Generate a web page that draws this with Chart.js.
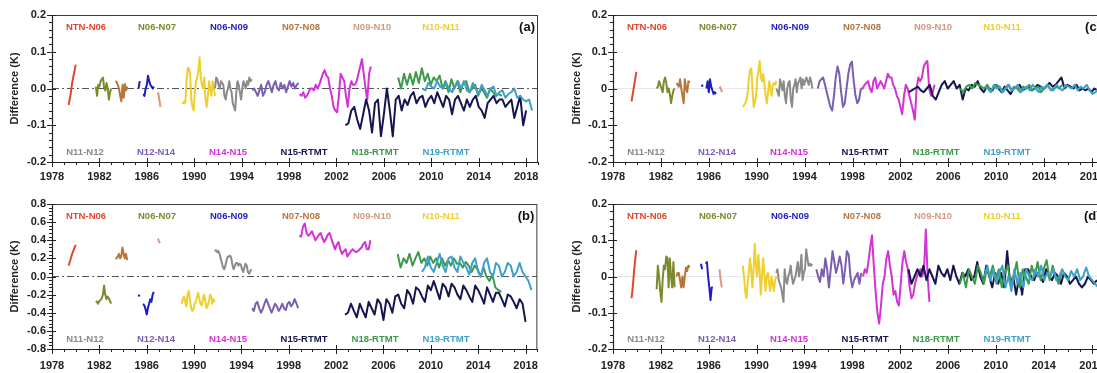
<!DOCTYPE html>
<html><head><meta charset="utf-8">
<script src="https://cdn.jsdelivr.net/npm/chart.js@4.4.1/dist/chart.umd.min.js"></script>
<style>
html,body{margin:0;padding:0;overflow:hidden;background:#fff;width:1097px;height:373px;}
body{position:relative;}
canvas{position:absolute;}
</style></head>
<body>
<canvas id="ca" width="548" height="185" style="left:0;top:0"></canvas>
<canvas id="cb" width="548" height="188" style="left:0;top:185px"></canvas>
<canvas id="cc" width="566" height="185" style="left:548px;top:0"></canvas>
<canvas id="cd" width="566" height="188" style="left:548px;top:185px"></canvas>
<script>
// ---------------- DATA ----------------
const seriesNames = ['NTN-N06','N06-N07','N06-N09','N07-N08','N09-N10','N10-N11','N11-N12','N12-N14','N14-N15','N15-RTMT','N18-RTMT','N19-RTMT'];
const seriesColors = ['#e2462c','#7b8a2a','#1d1dc4','#b8743a','#d39a80','#efcf2e','#8a8a8a','#7a5fb0','#d232d6','#15154f','#3d9a49','#3fa0c8'];
const xTickValues = [1978,1982,1986,1990,1994,1998,2002,2006,2010,2014,2018];
const xTickLabels = ['1978','1982','1986','1990','1994','1998','2002','2006','2010','2014','2018'];
const yTicksSmall = [-0.2,-0.1,0,0.1,0.2];
const yLabelsLeft = ['-0.2','-0.1','0.0','0.1','0.2'];
const yLabelsRight = ['-0.2','-0.1','0','0.1','0.2'];
const yTicksB = [-0.8,-0.6,-0.4,-0.2,0,0.2,0.4,0.6,0.8];
const yLabelsB = ['-0.8','-0.6','-0.4','-0.2','0.0','0.2','0.4','0.6','0.8'];
const zeroLine = [[1978,0],[2019,0]];

// panel (a): start year and step of each series, then values
const a_t0 = [1979.4,1981.7,1985.3,1983.35,1986.95,1988.95,1991.75,1994.9,1998.9,2002.75,2007.2,2009.25];
const a_dt = [0.15,0.1,0.1,0.1,0.1,0.1,0.1,0.15,0.15,0.25,0.25,0.25];
const a_v0 = [-0.045,-0.02,0.015,0.04,0.065];
const a_v1 = [0.005,-0.02,0.01,0.005,0.02,0.025,0.03,0.0,-0.005,0.015,0.0,-0.03,-0.01,0.0];
const a_v2 = [0.0,0.02,null,null,-0.015,-0.02,0.0,0.01,0.035,0.02,0.01,0.005,0.0,0.005];
const a_v3 = [0.02,0.018,0.01,0.0,-0.02,-0.035,0.01,-0.025,0.012,-0.005,0.005];
const a_v4 = [-0.01,-0.03,-0.05];
const a_v5 = [-0.04,-0.04,-0.035,-0.04,0.02,0.055,0.055,0.04,-0.03,-0.05,-0.06,-0.01,0.02,0.03,0.05,0.085,0.03,0.01,0.0,0.03,-0.03,-0.05,-0.02,0.02,0.0,-0.02,0.02,0.0,-0.02];
const a_v6 = [0.0,0.03,0.025,0.01,0.0,0.02,0.015,0.01,-0.02,-0.03,-0.01,0.0,0.02,0.0,-0.01,-0.04,-0.05,-0.06,-0.01,0.02,0.01,-0.01,-0.03,0.0,0.02,0.01,0.0,0.02,0.01,0.03,0.02,0.025];
const a_v7 = [-0.005,0.0,-0.01,-0.02,-0.005,0.01,-0.02,-0.01,0.01,0.02,0.005,-0.01,0.01,0.02,0.0,-0.005,0.015,0.0,0.01,-0.01,0.005,0.02,0.005,0.015,0.0,0.01,0.015];
const a_v8 = [-0.015,-0.02,-0.01,-0.025,-0.02,-0.01,0.0,0.0,-0.005,0.01,0.0,0.01,0.025,0.04,0.05,0.035,0.03,0.0,-0.02,-0.05,-0.06,-0.065,-0.02,0.04,0.03,0.02,-0.02,-0.05,0.0,0.02,0.01,0.01,0.02,0.04,0.06,0.08,0.04,0.0,-0.03,0.04,0.06];
const a_v9 = [-0.1,-0.095,-0.06,-0.05,-0.085,-0.11,-0.07,-0.03,-0.06,-0.12,-0.04,-0.03,-0.13,-0.07,0.0,-0.06,-0.13,-0.03,-0.02,-0.06,-0.03,-0.045,-0.02,-0.01,-0.04,-0.025,-0.02,-0.05,-0.03,-0.02,-0.04,-0.01,-0.03,-0.05,-0.02,-0.03,-0.07,-0.03,-0.02,-0.04,-0.06,-0.03,-0.05,-0.03,-0.02,-0.05,-0.06,-0.08,-0.04,-0.03,-0.02,-0.04,-0.03,-0.03,-0.05,-0.04,-0.03,-0.08,-0.05,-0.02,-0.1,-0.06];
const a_v10 = [0.03,0.0,0.04,0.01,0.04,0.01,0.045,0.015,0.055,0.02,0.04,0.01,0.03,0.02,0.035,0.0,0.02,-0.01,0.025,0.0,0.02,-0.01,0.015,0.02,-0.01,0.0,0.01,-0.02,0.0,-0.01,-0.025,0.0,-0.01,-0.02,-0.015,-0.02];
const a_v11 = [0.0,-0.005,0.015,0.005,0.0,0.02,0.005,0.0,0.015,0.0,-0.01,0.005,0.02,0.0,0.02,-0.005,-0.01,0.015,0.0,-0.015,0.01,-0.005,-0.02,0.0,0.005,-0.02,-0.01,-0.005,-0.025,-0.015,-0.01,0.0,-0.025,-0.02,-0.03,-0.035,-0.03,-0.06];

// panel (b)
const b_t0 = [1979.4,1981.7,1985.3,1983.35,1986.95,1988.95,1991.75,1994.9,1998.9,2002.75,2007.2,2009.25];
const b_dt = [0.15,0.1,0.1,0.1,0.1,0.1,0.1,0.15,0.15,0.25,0.25,0.25];
const b_v0 = [0.12,0.18,0.25,0.3,0.35];
const b_v1 = [-0.27,-0.28,-0.3,-0.27,-0.26,-0.24,-0.2,-0.1,-0.2,-0.25,-0.22,-0.24,-0.27,-0.3];
const b_v2 = [-0.22,-0.2,null,null,-0.3,-0.32,-0.36,-0.42,-0.35,-0.3,-0.25,-0.28,-0.2,-0.17];
const b_v3 = [0.2,0.2,0.22,0.25,0.2,0.22,0.32,0.25,0.2,0.25,0.18];
const b_v4 = [0.42,0.38,0.37];
const b_v5 = [-0.3,-0.25,-0.22,-0.28,-0.33,-0.2,-0.16,-0.25,-0.35,-0.38,-0.36,-0.3,-0.28,-0.22,-0.18,-0.25,-0.3,-0.32,-0.25,-0.2,-0.27,-0.35,-0.32,-0.28,-0.2,-0.22,-0.3,-0.25,-0.28];
const b_v6 = [0.28,0.29,0.27,0.28,0.25,0.2,0.15,0.1,0.08,0.12,0.18,0.22,0.22,0.23,0.2,0.12,0.08,0.12,0.15,0.15,0.12,0.14,0.13,0.08,0.05,0.1,0.14,0.12,0.05,0.03,0.06,0.08];
const b_v7 = [-0.35,-0.38,-0.3,-0.28,-0.35,-0.4,-0.36,-0.3,-0.25,-0.3,-0.35,-0.4,-0.35,-0.3,-0.33,-0.38,-0.35,-0.3,-0.35,-0.37,-0.3,-0.28,-0.33,-0.3,-0.25,-0.3,-0.35];
const b_v8 = [0.45,0.44,0.55,0.585,0.48,0.45,0.47,0.5,0.45,0.4,0.43,0.46,0.48,0.42,0.38,0.42,0.46,0.48,0.42,0.36,0.3,0.35,0.38,0.3,0.25,0.28,0.3,0.22,0.25,0.28,0.3,0.28,0.27,0.28,0.3,0.32,0.36,0.38,0.3,0.3,0.4];
const b_v9 = [-0.42,-0.4,-0.3,-0.38,-0.45,-0.3,-0.38,-0.45,-0.28,-0.35,-0.42,-0.25,-0.3,-0.48,-0.25,-0.3,-0.4,-0.22,-0.2,-0.3,-0.35,-0.15,-0.2,-0.3,-0.12,-0.15,-0.22,-0.28,-0.1,-0.15,-0.05,-0.15,-0.25,-0.08,-0.12,-0.22,-0.08,-0.12,-0.2,-0.25,-0.1,-0.15,-0.22,-0.28,-0.1,-0.15,-0.22,-0.3,-0.12,-0.2,-0.28,-0.18,-0.18,-0.25,-0.33,-0.2,-0.22,-0.28,-0.35,-0.25,-0.3,-0.5];
const b_v10 = [0.25,0.1,0.2,0.15,0.25,0.12,0.2,0.27,0.15,0.2,0.12,0.22,0.15,0.2,0.1,0.2,0.12,0.18,0.12,0.2,0.14,0.15,0.1,0.16,0.12,0.05,0.12,0.08,0.0,0.1,0.0,-0.05,0.02,-0.12,-0.15,-0.17];
const b_v11 = [0.05,0.1,0.22,0.1,0.05,0.15,0.25,0.12,0.05,0.2,0.22,0.1,0.05,0.22,0.15,0.1,0.02,0.15,0.2,0.05,0.0,0.15,0.2,0.05,0.0,0.15,0.12,0.0,0.05,0.15,0.12,0.0,0.05,0.15,0.05,0.0,-0.05,-0.15];

// panel (c)
const c_t0 = [1979.55,1981.65,1985.4,1983.3,1986.9,1988.85,1991.65,1995.1,1998.7,2002.7,2007.0,2009.05];
const c_dt = [0.1,0.1,0.1,0.1,0.1,0.1,0.1,0.15,0.15,0.25,0.25,0.25];
const c_v0 = [-0.035,-0.015,0.005,0.025,0.045];
const c_v1 = [0.0,0.005,0.02,0.01,0.0,-0.01,0.02,0.03,0.015,-0.01,0.0,-0.015,-0.04,-0.02,-0.005,0.0];
const c_v2 = [0.005,0.01,null,null,0.0,0.02,-0.01,0.025,0.005,-0.005,-0.015,-0.01,-0.015];
const c_v3 = [0.015,0.01,0.005,0.025,0.0,-0.02,-0.04,0.025,0.0,-0.01,0.02,0.015];
const c_v4 = [0.005,0.0,-0.01];
const c_v5 = [-0.05,-0.045,-0.04,-0.03,-0.01,0.03,0.05,0.055,0.0,-0.05,-0.04,-0.02,0.03,0.05,0.075,0.03,0.02,0.04,0.01,-0.02,-0.04,-0.01,0.02,0.0,-0.02,0.01,0.015,0.01,0.02];
const c_v6 = [0.0,-0.01,-0.02,0.025,0.01,-0.005,0.02,-0.02,-0.04,0.0,0.015,0.02,-0.03,-0.05,0.0,0.01,0.025,-0.01,0.015,0.02,0.03,0.0,0.025,0.01,0.02,0.03,0.02,0.01,0.03,0.02,0.0];
const c_v7 = [0.0,0.02,0.025,0.03,0.01,-0.01,-0.03,-0.05,-0.06,-0.02,0.03,0.06,0.04,-0.01,-0.05,-0.04,0.0,0.04,0.065,0.073,0.02,-0.02,-0.04,-0.03,0.0];
const c_v8 = [0.0,0.0,0.01,0.015,0.02,0.0,-0.01,0.02,0.03,0.0,0.01,0.02,0.01,0.0,0.02,0.04,0.03,0.03,0.01,0.0,-0.02,-0.03,-0.05,-0.07,-0.02,0.01,0.0,-0.02,-0.04,-0.06,-0.085,0.0,0.03,0.02,0.03,0.06,0.07,0.075,0.0,-0.02,-0.01,0.01];
const c_v9 = [-0.01,-0.005,0.0,0.005,-0.005,-0.01,0.0,0.01,-0.02,-0.03,-0.01,0.01,0.02,0.0,0.01,0.02,0.0,0.01,-0.03,0.0,-0.005,0.01,0.005,0.02,0.0,-0.01,0.005,0.0,-0.005,0.01,0.0,-0.01,0.005,-0.005,-0.015,0.0,0.005,0.01,-0.005,0.0,0.005,-0.005,0.0,0.01,0.005,0.0,0.005,0.015,0.005,0.01,0.02,0.03,0.0,0.01,0.005,0.0,0.01,-0.005,0.0,-0.005,0.0,-0.01,0.0,-0.005];
const c_v10 = [0.0,-0.01,0.005,0.01,0.0,0.015,0.01,0.005,0.0,0.01,-0.005,0.0,0.01,0.005,-0.01,0.0,0.01,-0.005,0.005,0.0,-0.01,0.005,0.0,0.01,-0.005,0.0,0.005,-0.01,0.0,0.01,0.0,-0.005,0.005,0.0,0.01];
const c_v11 = [0.005,0.0,-0.01,0.01,0.0,0.005,-0.01,0.0,0.01,-0.005,0.0,0.01,-0.01,0.0,0.005,-0.005,0.01,0.0,-0.01,0.005,0.0,0.01,-0.005,0.0,0.01,0.0,-0.005,0.01,0.005,0.0,0.01,-0.005,0.005,0.0,0.01,-0.005,-0.015,-0.01,0.0];

// panel (d)
const d_t0 = [1979.55,1981.65,1985.35,1983.3,1986.9,1988.85,1991.65,1995.0,1998.9,2002.7,2007.0,2009.05];
const d_dt = [0.1,0.1,0.1,0.1,0.1,0.1,0.1,0.15,0.15,0.25,0.25,0.25];
const d_v0 = [-0.06,-0.03,0.01,0.045,0.073];
const d_v1 = [-0.035,0.03,0.0,-0.04,-0.07,-0.01,0.03,0.02,0.055,0.05,-0.03,0.05,0.0,-0.03,0.04,-0.03];
const d_v2 = [0.035,0.02,null,null,0.035,0.04,0.0,-0.03,-0.065,-0.03,-0.03];
const d_v3 = [0.0,0.01,0.01,-0.01,-0.03,0.0,-0.03,0.0,0.025,0.015,0.03,0.025];
const d_v4 = [0.02,-0.01,-0.03];
const d_v5 = [0.03,0.0,-0.04,-0.06,-0.02,0.01,0.05,0.02,-0.03,0.02,0.09,0.03,0.0,0.06,0.02,-0.05,0.0,0.05,0.01,-0.04,0.0,0.01,-0.02,-0.04,0.0,-0.02,-0.04,-0.01,0.0];
const d_v6 = [0.01,0.02,-0.01,-0.02,-0.03,-0.05,-0.07,0.02,-0.01,-0.02,0.0,0.01,0.03,0.0,-0.02,-0.01,0.0,0.02,0.04,0.0,0.02,0.06,-0.01,0.01,0.02,0.075,0.05,0.03,0.035,0.03,0.035];
const d_v7 = [0.02,0.0,-0.015,0.02,0.0,0.05,0.02,-0.03,0.02,0.07,0.04,0.01,0.03,0.055,0.03,-0.02,0.02,0.07,0.06,0.0,-0.03,-0.01,0.0,0.01,-0.02,0.01];
const d_v8 = [0.0,0.02,0.01,0.04,0.08,0.114,0.03,-0.04,-0.1,-0.13,-0.08,-0.02,0.0,0.05,0.07,0.03,0.0,-0.05,-0.04,-0.07,-0.08,-0.02,0.04,0.07,0.04,0.02,-0.03,-0.06,-0.05,-0.02,0.0,0.01,0.02,0.0,0.02,0.13,0.0,-0.07];
const d_v9 = [0.02,-0.02,0.0,0.02,0.0,0.03,-0.01,0.02,0.0,-0.02,0.03,0.01,0.0,0.02,-0.01,0.03,0.0,-0.02,0.01,0.0,0.02,-0.01,0.0,0.04,0.0,-0.02,0.03,0.0,-0.03,0.01,-0.02,0.01,-0.03,0.07,-0.02,0.0,-0.05,0.0,-0.05,0.02,0.02,0.0,-0.01,0.01,0.0,-0.015,0.02,0.0,-0.01,0.01,0.0,-0.02,0.01,0.0,-0.02,-0.01,0.0,-0.02,-0.03,-0.02,0.0,-0.01,-0.02,-0.01];
const d_v10 = [-0.02,0.01,-0.03,0.02,0.0,-0.02,0.03,0.01,-0.02,0.02,0.0,0.03,-0.01,0.02,-0.03,0.01,0.03,-0.02,0.0,0.04,-0.03,0.02,0.0,-0.02,0.03,0.0,0.04,-0.01,0.02,0.045,-0.01,0.03,0.0,-0.02,0.01];
const d_v11 = [0.0,0.03,-0.01,0.02,-0.02,0.01,0.03,-0.03,0.0,-0.04,0.02,-0.02,0.01,-0.03,0.02,0.0,-0.01,0.02,0.0,0.03,-0.01,0.01,0.0,0.02,-0.01,0.0,0.02,0.0,-0.01,0.015,0.0,0.02,-0.01,0.0,0.025,0.0,-0.01,-0.02,-0.03];

// ---------------- BUILD ----------------
const FONT = '"Liberation Sans", Arial, Helvetica, sans-serif';
function pts(t0, dt, vals){ return vals.map((v,i)=>({x: Math.round((t0+i*dt)*1000)/1000, y: v})); }

const decor = {
  id: 'decor',
  afterDraw(chart){
    const o = chart.options.plugins.decor;
    const {ctx, chartArea:{left,right,top,bottom}, scales:{x,y}} = chart;
    ctx.save();
    ctx.strokeStyle = '#3a3a3a';
    ctx.lineWidth = 1;
    ctx.strokeRect(left+0.5, top+0.5, right-left-1, bottom-top);
    ctx.strokeStyle = '#222';
    ctx.lineWidth = 1.2;
    ctx.beginPath(); ctx.moveTo(left, bottom+0.5); ctx.lineTo(right, bottom+0.5); ctx.stroke();
    ctx.beginPath(); ctx.moveTo(left+0.5, top); ctx.lineTo(left+0.5, bottom); ctx.stroke();
    ctx.lineWidth = 1;
    for (let yr = Math.ceil(x.min); yr <= x.max; yr++){
      const px = Math.round(x.getPixelForValue(yr)) + 0.5;
      const major = xTickValues.includes(yr);
      ctx.beginPath();
      ctx.moveTo(px, bottom - (major ? 4 : 0));
      ctx.lineTo(px, bottom + (major ? 5 : 3));
      ctx.stroke();
    }
    const n = Math.round((y.max - y.min)/o.minor);
    for (let i = 0; i <= n; i++){
      const v = y.min + i*o.minor;
      const py = Math.round(y.getPixelForValue(v)) + 0.5;
      const major = Math.abs(Math.round(v/o.major)*o.major - v) < 1e-6;
      ctx.beginPath();
      ctx.moveTo(left - (major ? 5 : 3), py);
      ctx.lineTo(left + (major ? 4 : 0), py);
      ctx.stroke();
    }
    ctx.font = 'bold 9.5px ' + FONT;
    ctx.textAlign = 'center';
    ctx.textBaseline = 'middle';
    const topOff = [34,105,177,249,320,389];
    const botOff = [33,104,176,252,323,394];
    seriesNames.forEach((nm, i) => {
      ctx.fillStyle = seriesColors[i];
      if (i < 6) ctx.fillText(nm, left + topOff[i], top + 12);
      else ctx.fillText(nm, left + botOff[i-6], bottom - 10);
    });
    ctx.fillStyle = '#111';
    ctx.font = 'bold 13px ' + FONT;
    ctx.textAlign = 'right';
    ctx.fillText(o.tag, right - 3, top + 12);
    ctx.restore();
  }
};

function makeChart(id, t0s, dts, vals, cfg){
  const datasets = vals.map((v,i) => ({
    label: seriesNames[i],
    data: pts(t0s[i], dts[i], v),
    borderColor: seriesColors[i],
    borderWidth: 2,
    borderJoinStyle: 'round',
    pointRadius: 0,
    fill: false,
    tension: 0,
    spanGaps: false,
    order: 20 - i
  }));
  datasets.push({
    label: 'zero',
    data: zeroLine.map(p => ({x: p[0], y: p[1]})),
    borderColor: cfg.zeroColor,
    borderWidth: 1,
    borderDash: cfg.zeroDash,
    pointRadius: 0,
    order: 100
  });
  return new Chart(document.getElementById(id), {
    type: 'line',
    data: { datasets },
    plugins: [decor],
    options: {
      responsive: false,
      devicePixelRatio: 1,
      animation: false,
      events: [],
      layout: { padding: cfg.pad },
      plugins: {
        legend: { display: false },
        tooltip: { enabled: false },
        decor: { tag: cfg.tag, minor: cfg.minor, major: cfg.major }
      },
      scales: {
        x: {
          type: 'linear', min: 1978, max: 2019,
          grid: { display: false, drawTicks: false },
          border: { display: false },
          afterBuildTicks: s => { s.ticks = xTickValues.map(v => ({value: v})); },
          afterFit: s => { s.height = cfg.xh; },
          ticks: {
            autoSkip: false, maxRotation: 0, padding: cfg.xpad,
            color: '#222', font: { family: FONT, size: 11, weight: 'bold' },
            callback: (v, i) => xTickLabels[i]
          }
        },
        y: {
          type: 'linear', min: cfg.yTicks[0], max: cfg.yTicks[cfg.yTicks.length-1],
          grid: { display: false, drawTicks: false },
          border: { display: false },
          afterBuildTicks: s => { s.ticks = cfg.yTicks.map(v => ({value: v})); },
          afterFit: s => { s.width = cfg.yw; },
          title: {
            display: true, text: 'Difference (K)', color: '#222',
            font: { family: FONT, size: 11, weight: 'bold' },
            padding: { top: cfg.tpad, bottom: 0 }
          },
          ticks: {
            autoSkip: false, padding: 6,
            color: '#222', font: { family: FONT, size: 11, weight: 'bold' },
            callback: (v, i) => cfg.yLabels[i]
          }
        }
      }
    }
  });
}

makeChart('ca', a_t0, a_dt, [a_v0,a_v1,a_v2,a_v3,a_v4,a_v5,a_v6,a_v7,a_v8,a_v9,a_v10,a_v11], {
  tag: '(a)', pad: {top:15, right:10, bottom:0, left:0}, xh: 23, xpad: 8, yw: 52, tpad: 8,
  yTicks: yTicksSmall, yLabels: yLabelsLeft, minor: 0.02, major: 0.1,
  zeroColor: '#555', zeroDash: [7,3,2,3]
});
makeChart('cb', b_t0, b_dt, [b_v0,b_v1,b_v2,b_v3,b_v4,b_v5,b_v6,b_v7,b_v8,b_v9,b_v10,b_v11], {
  tag: '(b)', pad: {top:19, right:10, bottom:0, left:0}, xh: 24, xpad: 10, yw: 52, tpad: 8,
  yTicks: yTicksB, yLabels: yLabelsB, minor: 0.04, major: 0.2,
  zeroColor: '#555', zeroDash: [7,3,2,3]
});
makeChart('cc', c_t0, c_dt, [c_v0,c_v1,c_v2,c_v3,c_v4,c_v5,c_v6,c_v7,c_v8,c_v9,c_v10,c_v11], {
  tag: '(c)', pad: {top:15, right:10, bottom:0, left:0}, xh: 23, xpad: 8, yw: 65, tpad: 22,
  yTicks: yTicksSmall, yLabels: yLabelsRight, minor: 0.02, major: 0.1,
  zeroColor: '#e6e6e6', zeroDash: []
});
makeChart('cd', d_t0, d_dt, [d_v0,d_v1,d_v2,d_v3,d_v4,d_v5,d_v6,d_v7,d_v8,d_v9,d_v10,d_v11], {
  tag: '(d)', pad: {top:19, right:10, bottom:0, left:0}, xh: 24, xpad: 10, yw: 65, tpad: 22,
  yTicks: yTicksSmall, yLabels: yLabelsRight, minor: 0.02, major: 0.1,
  zeroColor: '#e6e6e6', zeroDash: []
});
</script>
</body></html>
